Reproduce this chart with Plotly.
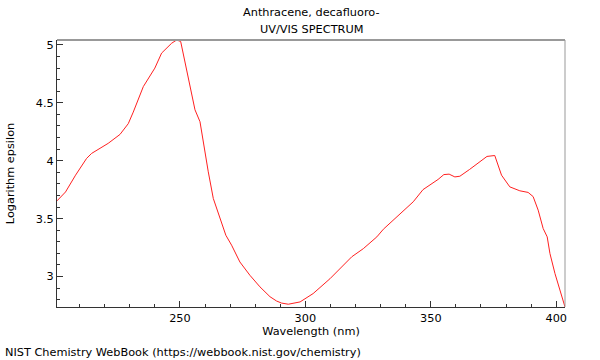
import plotly.graph_objects as go

wavelength = [201.0, 204.4, 208.4, 212.8, 214.8, 221.4, 226.1, 229.4, 231.4, 233.4,
              235.4, 240.0, 242.7, 246.7, 248.7, 250.3, 252.0, 254.0, 256.0, 258.0,
              259.3, 261.3, 263.3, 265.9, 268.3, 270.6, 273.9, 277.9, 281.9, 285.9,
              288.5, 290.5, 293.2, 297.9, 303.1, 309.8, 314.5, 318.5, 323.1, 328.5,
              331.1, 335.8, 339.6, 343.0, 346.9, 349.6, 352.9, 355.2, 357.3, 359.6,
              361.6, 365.5, 369.5, 372.4, 375.5, 378.2, 381.5, 385.5, 388.8, 390.8,
              392.8, 394.8, 396.4, 397.5, 399.5, 403.5]
log_eps = [3.653, 3.73, 3.875, 4.02, 4.063, 4.15, 4.227, 4.32, 4.42, 4.524,
           4.64, 4.80, 4.93, 5.015, 5.043, 5.03, 4.856, 4.654, 4.44, 4.337,
           4.164, 3.904, 3.674, 3.50, 3.356, 3.27, 3.125, 3.01, 2.91, 2.825,
           2.788, 2.77, 2.76, 2.78, 2.852, 2.98, 3.082, 3.17, 3.24, 3.342,
           3.408, 3.50, 3.573, 3.645, 3.75, 3.79, 3.838, 3.88, 3.884, 3.86,
           3.866, 3.925, 3.99, 4.037, 4.045, 3.875, 3.774, 3.74, 3.726, 3.69,
           3.573, 3.414, 3.342, 3.198, 3.025, 2.736]

title_lines = ["Anthracene, decafluoro-", "UV/VIS SPECTRUM"]
x_title = "Wavelength (nm)"
y_title = "Logarithm epsilon"
footer = "NIST Chemistry WebBook (https://webbook.nist.gov/chemistry)"

FONT = "DejaVu Sans"
FS = 11.3
AX = "#333333"
BORDER = "#999999"

fig = go.Figure()
fig.add_trace(go.Scatter(x=wavelength, y=log_eps, mode="lines",
                         line=dict(color="#ff2020", width=1), hoverinfo="skip"))

fig.update_layout(
    width=600, height=360,
    margin=dict(l=57, r=35, t=40, b=53, autoexpand=False),
    paper_bgcolor="white", plot_bgcolor="white",
    showlegend=False,
    font=dict(family=FONT, size=FS, color="black"),
    xaxis=dict(range=[201.0, 403.5], tickvals=[250, 300, 350, 400],
               ticks="inside", ticklen=6, tickcolor=AX, showline=True, linecolor=AX,
               linewidth=1, showgrid=False, zeroline=False, automargin=False,
               minor=dict(dtick=10, tick0=200, ticks="inside", ticklen=3, tickcolor=AX),
               title=dict(text=x_title, standoff=0, font=dict(family=FONT, size=FS)),
               tickfont=dict(family=FONT, size=FS)),
    yaxis=dict(range=[2.736, 5.043], tickvals=[3, 3.5, 4, 4.5, 5],
               ticktext=["3", "3.5", "4", "4.5", "5"],
               ticks="inside", ticklen=6, tickcolor=AX, showline=True, linecolor=AX,
               linewidth=1, showgrid=False, zeroline=False, automargin=False,
               minor=dict(dtick=0.1, tick0=0, ticks="inside", ticklen=3, tickcolor=AX),
               title=dict(text=y_title, standoff=18, font=dict(family=FONT, size=FS)),
               tickfont=dict(family=FONT, size=FS)),
    shapes=[
        dict(type="line", xref="paper", yref="paper", x0=0, x1=1, y0=1, y1=1,
             line=dict(color=BORDER, width=2)),
        dict(type="line", xref="paper", yref="paper", x0=1, x1=1, y0=0, y1=1,
             line=dict(color=BORDER, width=1)),
    ],
    annotations=[
        dict(text=title_lines[0], xref="paper", yref="paper", x=0.5, y=(307 - 13) / 267,
             xanchor="center", yanchor="middle", showarrow=False,
             font=dict(family=FONT, size=FS)),
        dict(text=title_lines[1], xref="paper", yref="paper", x=0.5, y=(307 - 30) / 267,
             xanchor="center", yanchor="middle", showarrow=False,
             font=dict(family=FONT, size=FS)),
        dict(text=footer, xref="paper", yref="paper", x=(3 - 57) / 508, y=(307 - 352) / 267,
             xanchor="left", yanchor="middle", showarrow=False,
             font=dict(family=FONT, size=FS)),
    ],
)

fig.write_html("out.html", config={"displayModeBar": False, "staticPlot": True},
               post_script="document.body.style.margin='0';")
